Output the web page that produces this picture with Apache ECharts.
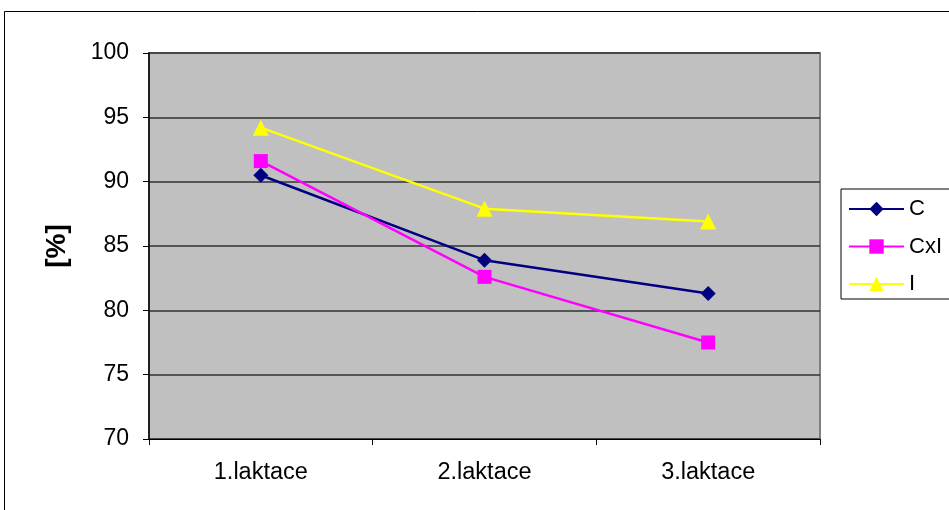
<!DOCTYPE html>
<html><head><meta charset="utf-8">
<script src="https://cdn.jsdelivr.net/npm/echarts@6/dist/echarts.min.js"></script>
<style>html,body{margin:0;padding:0;background:#fff}#c{width:949px;height:510px}</style>
</head><body><div id="c"></div>
<script>
const categories = ['1.laktace', '2.laktace', '3.laktace'];
const seriesC = [90.5, 83.9, 81.3];
const seriesCxI = [91.6, 82.6, 77.5];
const seriesI = [94.2, 87.9, 86.9];
const yTicks = [70, 75, 80, 85, 90, 95, 100];

const chart = echarts.init(document.getElementById('c'));
const font = 'Liberation Sans, Arial, sans-serif';
function mk(name, data, color, symbol, size) {
  return {
    name, type: 'line', data, symbol, symbolSize: size,
    lineStyle: { color, width: 2.5 }, itemStyle: { color, borderWidth: 0 },
    emphasis: { disabled: true }, animation: false
  };
}
chart.setOption({
  animation: false,
  graphic: [{ type: 'rect', shape: { x: 4.5, y: 11.5, width: 960, height: 520 },
    style: { fill: 'none', stroke: '#000', lineWidth: 1 }, z: -1 }],
  grid: { left: 149, top: 53, right: 129, bottom: 71, show: true,
    backgroundColor: '#C0C0C0', borderColor: '#808080', borderWidth: 2 },
  legend: {
    orient: 'vertical', left: 841, top: 189,
    borderColor: '#000', borderWidth: 1, borderRadius: 0,
    padding: [9, 80, 4, 7], itemGap: 15.5, itemWidth: 55, itemHeight: 18,
    textStyle: { fontFamily: font, fontSize: 22, color: '#000', padding: [0, 0, 0, 0] },
    data: ['C', 'CxI', 'I']
  },
  xAxis: {
    type: 'category', data: categories, boundaryGap: true,
    axisLine: { lineStyle: { color: '#000', width: 1 } },
    axisTick: { show: true, length: 6, lineStyle: { color: '#000' } },
    axisLabel: { fontFamily: font, fontSize: 23.5, color: '#000', margin: 22 }
  },
  yAxis: {
    type: 'value', min: 70, max: 100, interval: 5,
    name: '[%]', nameLocation: 'middle', nameGap: 78, nameRotate: 90,
    nameTextStyle: { fontFamily: font, fontSize: 28, fontWeight: 'bold', color: '#000' },
    axisLine: { show: true, lineStyle: { color: '#000', width: 1.5 } },
    axisTick: { show: true, length: 6, lineStyle: { color: '#000' } },
    splitLine: { lineStyle: { color: '#333', width: 1.5 } },
    axisLabel: { fontFamily: font, fontSize: 23, color: '#000', margin: 20,
      formatter: v => yTicks.includes(v) ? String(v) : '' }
  },
  series: [
    mk('C', seriesC, '#000080', 'diamond', 15),
    mk('CxI', seriesCxI, '#FF00FF', 'rect', 14),
    mk('I', seriesI, '#FFFF00', 'triangle', 16)
  ]
});
</script></body></html>
